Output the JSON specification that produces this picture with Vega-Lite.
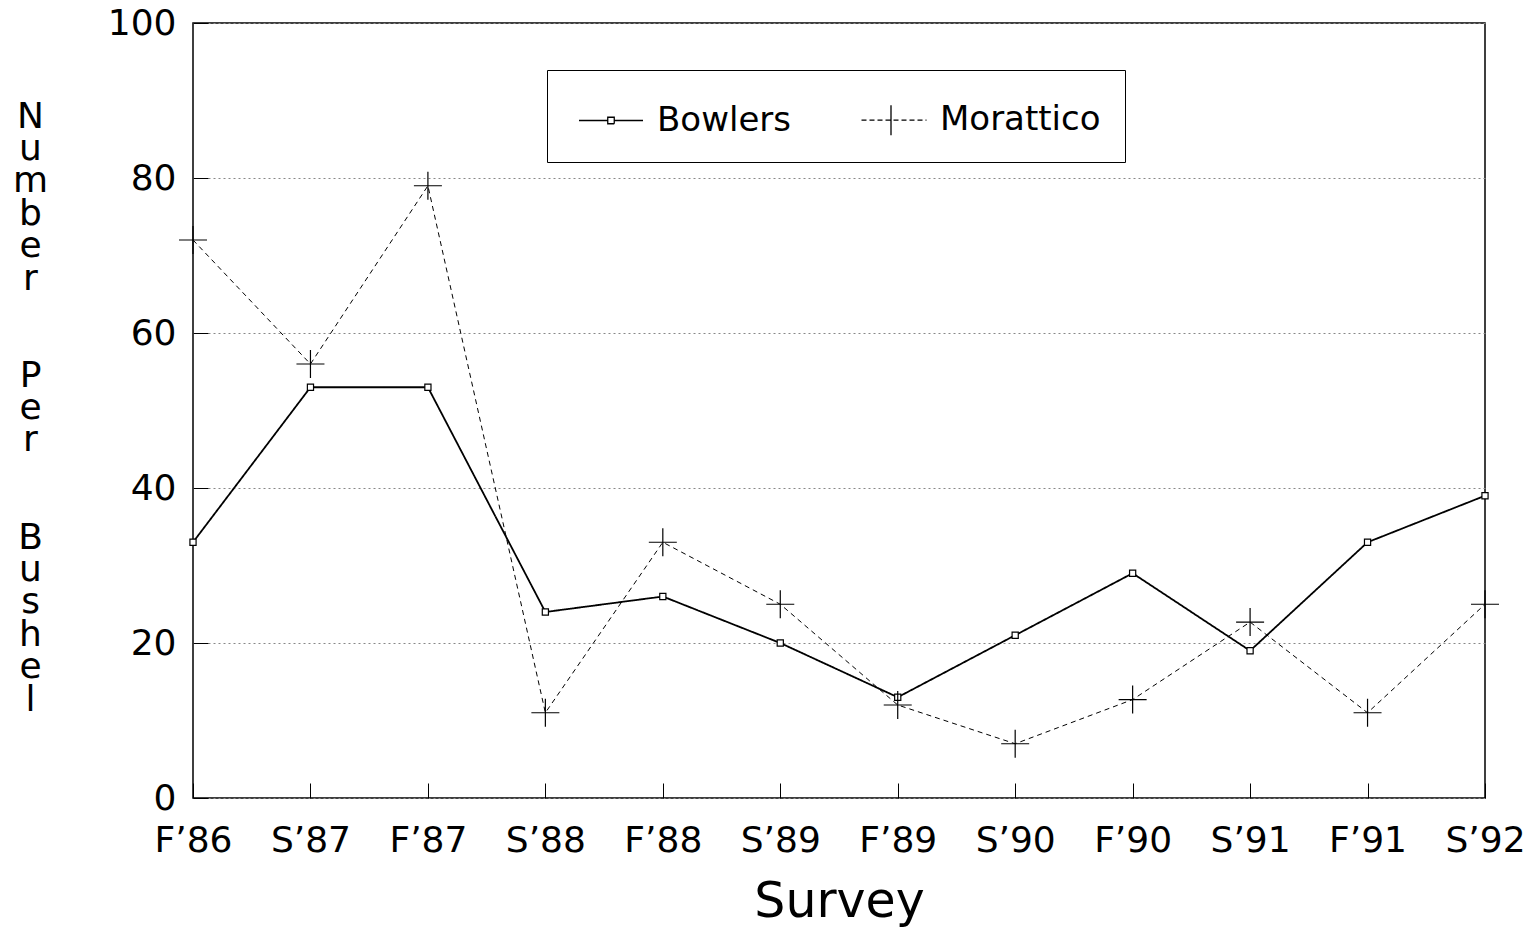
{
  "$schema": "https://vega.github.io/schema/vega-lite/v6.json",
  "width": 1292,
  "height": 775,
  "autosize": {"type": "none"},
  "padding": {"left": 193, "top": 23, "right": 53, "bottom": 130},
  "background": "white",
  "config": {
    "view": {"stroke": "black", "strokeWidth": 1.5},
    "font": "DejaVu Sans",
    "axis": {"labelColor": "black", "titleColor": "black", "titleFontWeight": "normal", "labelFont": "DejaVu Sans", "titleFont": "DejaVu Sans"}
  },
  "data": {
    "values": [
      {"survey": "F’86", "series": "Bowlers", "value": 33},
      {"survey": "S’87", "series": "Bowlers", "value": 53},
      {"survey": "F’87", "series": "Bowlers", "value": 53},
      {"survey": "S’88", "series": "Bowlers", "value": 24},
      {"survey": "F’88", "series": "Bowlers", "value": 26},
      {"survey": "S’89", "series": "Bowlers", "value": 20},
      {"survey": "F’89", "series": "Bowlers", "value": 13},
      {"survey": "S’90", "series": "Bowlers", "value": 21},
      {"survey": "F’90", "series": "Bowlers", "value": 29},
      {"survey": "S’91", "series": "Bowlers", "value": 19},
      {"survey": "F’91", "series": "Bowlers", "value": 33},
      {"survey": "S’92", "series": "Bowlers", "value": 39},
      {"survey": "F’86", "series": "Morattico", "value": 72},
      {"survey": "S’87", "series": "Morattico", "value": 56},
      {"survey": "F’87", "series": "Morattico", "value": 79},
      {"survey": "S’88", "series": "Morattico", "value": 11},
      {"survey": "F’88", "series": "Morattico", "value": 33},
      {"survey": "S’89", "series": "Morattico", "value": 25},
      {"survey": "F’89", "series": "Morattico", "value": 12},
      {"survey": "S’90", "series": "Morattico", "value": 7},
      {"survey": "F’90", "series": "Morattico", "value": 12.7},
      {"survey": "S’91", "series": "Morattico", "value": 22.7},
      {"survey": "F’91", "series": "Morattico", "value": 11},
      {"survey": "S’92", "series": "Morattico", "value": 25}
    ]
  },
  "encoding": {
    "x": {
      "field": "survey",
      "type": "ordinal",
      "scale": {"type": "point", "padding": 0, "domain": ["F’86", "S’87", "F’87", "S’88", "F’88", "S’89", "F’89", "S’90", "F’90", "S’91", "F’91", "S’92"]},
      "axis": {
        "title": "Survey",
        "titleFontSize": 49,
        "titlePadding": 19,
        "labelAngle": 0,
        "labelFontSize": 36,
        "labelPadding": 40,
        "tickSize": -15,
        "tickColor": "black",
        "tickWidth": 1,
        "domain": false,
        "grid": false
      }
    },
    "y": {
      "field": "value",
      "type": "quantitative",
      "scale": {"domain": [0, 100], "nice": false, "zero": true},
      "axis": {
        "values": [0, 20, 40, 60, 80, 100],
        "title": ["N", "u", "m", "b", "e", "r", "\u2800", "\u2800", "P", "e", "r", "\u2800", "\u2800", "B", "u", "s", "h", "e", "l"],
        "titleAngle": 0,
        "titleAlign": "center",
        "titleBaseline": "middle",
        "titleX": -163,
        "titleY": 93,
        "titleFontSize": 36,
        "titleLineHeight": 32.4,
        "labelFontSize": 36,
        "labelPadding": 32,
        "tickSize": -15,
        "tickColor": "black",
        "domain": false,
        "grid": true,
        "gridColor": "#888888",
        "gridDash": [2, 3],
        "gridWidth": 1
      }
    }
  },
  "layer": [
    {
      "mark": {"type": "line", "color": "black"},
      "encoding": {
        "detail": {"field": "series", "type": "nominal"},
        "strokeDash": {"condition": {"test": "datum.series === 'Morattico'", "value": [5, 4]}, "value": [1, 0]},
        "strokeWidth": {"condition": {"test": "datum.series === 'Morattico'", "value": 1}, "value": 1.8}
      }
    },
    {
      "mark": {"type": "point", "filled": true, "fill": "white", "stroke": "black", "strokeWidth": 1.2, "size": 784, "opacity": 1},
      "encoding": {
        "shape": {"condition": {"test": "datum.series === 'Bowlers'", "value": "M-0.22,-0.22H0.22V0.22H-0.22Z"}, "value": "M-1,0H1M0,-1V1"}
      }
    },
    {
      "mark": {"type": "point", "filled": false, "color": "black", "strokeWidth": 1.3, "size": 2500, "opacity": 0},
      "encoding": {
        "shape": {
          "field": "series",
          "type": "nominal",
          "scale": {"domain": ["Bowlers", "Morattico"], "range": ["M-1.28,0H-0.13M0.13,0H1.28M-0.13,-0.13H0.13V0.13H-0.13Z", "M-1.3,0H1.3M-0.12,-0.6V-0.4M-0.12,-0.4V-0.2M-0.12,-0.2V0M-0.12,0V0.2M-0.12,0.2V0.4M-0.12,0.4V0.6"]},
          "legend": {
            "title": null,
            "orient": "none",
            "legendX": 354,
            "legendY": 47,
            "direction": "horizontal",
            "strokeColor": "black",
            "fillColor": "white",
            "padding": 24,
            "symbolSize": 2500,
            "symbolOffset": 14,
            "symbolOpacity": 1,
            "symbolStrokeColor": "black",
            "symbolStrokeWidth": 1.3,
            "labelOffset": 20,
            "columnPadding": 63,
            "labelFontSize": 34,
            "labelLimit": 400,
            "labelFont": "DejaVu Sans",
            "labelColor": "black"
          }
        },
        "strokeDash": {
          "field": "series",
          "type": "nominal",
          "scale": {"domain": ["Bowlers", "Morattico"], "range": [[1, 0], [5, 3]]},
          "legend": {
            "title": null,
            "orient": "none",
            "legendX": 354,
            "legendY": 47,
            "direction": "horizontal",
            "strokeColor": "black",
            "fillColor": "white",
            "padding": 24,
            "symbolSize": 2500,
            "symbolOffset": 14,
            "symbolOpacity": 1,
            "symbolStrokeColor": "black",
            "symbolStrokeWidth": 1.3,
            "labelOffset": 20,
            "columnPadding": 63,
            "labelFontSize": 34,
            "labelLimit": 400,
            "labelFont": "DejaVu Sans",
            "labelColor": "black"
          }
        }
      }
    }
  ]
}
